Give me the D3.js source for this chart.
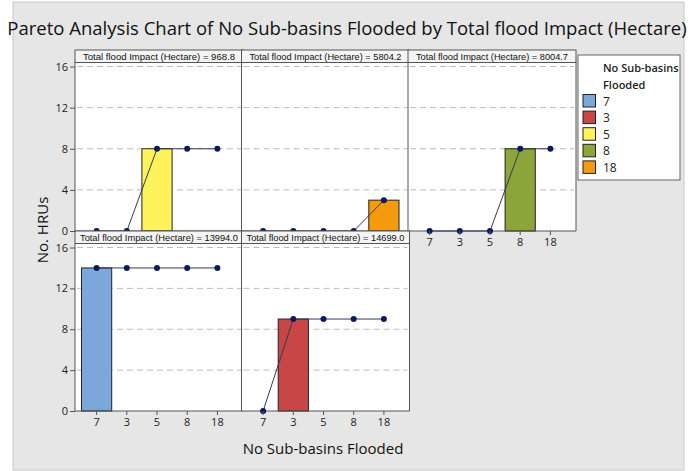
<!DOCTYPE html>
<html><head><meta charset="utf-8">
<script src="https://cdn.jsdelivr.net/npm/d3@7"></script>
<style>
html,body{margin:0;padding:0;background:#fff;}
svg{display:block;font-family:"Open Sans","Liberation Sans",sans-serif;}
</style></head>
<body>
<svg id="c" width="695" height="471"></svg>
<script>
const categories = ["7","3","5","8","18"];
const panelImpacts = ["968.8","5804.2","8004.7","13994.0","14699.0"];
const countsP1 = [0,0,8,0,0];
const countsP2 = [0,0,0,0,3];
const countsP3 = [0,0,0,8,0];
const countsP4 = [14,0,0,0,0];
const countsP5 = [0,9,0,0,0];
const cumP1 = [0,0,8,8,8];
const cumP2 = [0,0,0,0,3];
const cumP3 = [0,0,0,8,8];
const cumP4 = [14,14,14,14,14];
const cumP5 = [0,9,9,9,9];
const yTicks = [0,4,8,12,16];
const catColors = ["#7ba7da","#c94646","#fff35c","#8ba53a","#f59a0c"];

const counts = [countsP1,countsP2,countsP3,countsP4,countsP5];
const cums = [cumP1,cumP2,cumP3,cumP4,cumP5];

const svg = d3.select("#c");
// background
svg.append("rect").attr("x",13).attr("y",2).attr("width",671).attr("height",468)
  .attr("fill","#e6e6e6").attr("stroke","#c8c8c8");

const tg = svg.append("g");
const title = tg.append("text").attr("x",0).attr("y",0).attr("text-anchor","middle")
  .attr("font-size",19).attr("fill","#111")
  .text("Pareto Analysis Chart of No Sub-basins Flooded by Total flood Impact (Hectare)");
const natW = title.node().getComputedTextLength();
const sx = Math.min(1, 680 / natW);
tg.attr("transform",`translate(347,35) scale(${sx},1)`);

const colX = [75, 241.5, 408];
const panelW = 168;
const rows = [
  {hTop:50, hBot:62.5, y16:66.5, y0:231},
  {hTop:231, hBot:243.5, y16:247.5, y0:411}
];
const layout = [
  {c:0,r:0,yAxis:true,xAxis:false},
  {c:1,r:0,yAxis:false,xAxis:false},
  {c:2,r:0,yAxis:false,xAxis:true},
  {c:0,r:1,yAxis:true,xAxis:true},
  {c:1,r:1,yAxis:false,xAxis:true}
];
const color = d3.scaleOrdinal().domain(categories).range(catColors);

layout.forEach((L,i)=>{
  const x0 = colX[L.c], R = rows[L.r];
  const g = svg.append("g");
  const x = d3.scaleBand().domain(categories).range([x0+6.5, x0+6.5+151]).paddingInner(0).paddingOuter(0);
  const y = d3.scaleLinear().domain([0,16]).range([R.y0, R.y16]);
  // panel bg
  g.append("rect").attr("x",x0).attr("y",R.hBot).attr("width",panelW).attr("height",R.y0-R.hBot)
    .attr("fill","#fff").attr("stroke","none");
  // header
  g.append("rect").attr("x",x0).attr("y",R.hTop).attr("width",panelW).attr("height",R.hBot-R.hTop)
    .attr("fill","#f4f4f4").attr("stroke","#555").attr("stroke-width",1);
  const hlen = panelImpacts[i].length > 6 ? 158 : 152;
  g.append("text").attr("x",x0+panelW/2).attr("y",R.hBot-2.5).attr("text-anchor","middle")
    .attr("font-family","'Liberation Sans',sans-serif")
    .attr("font-size",9.5).attr("fill","#111")
    .attr("textLength",hlen).attr("lengthAdjust","spacingAndGlyphs")
    .text("Total flood Impact (Hectare) = " + panelImpacts[i]);
  // grid
  g.selectAll(".grid").data(yTicks.filter(t=>t>0)).enter().append("line")
    .attr("x1",x0+2).attr("x2",x0+panelW-2).attr("y1",d=>y(d)).attr("y2",d=>y(d))
    .attr("stroke","#bdbdbd").attr("stroke-dasharray","6,4").attr("stroke-width",1);
  // bars
  g.selectAll(".bar").data(categories.map((c,k)=>({c, v:counts[i][k]})).filter(d=>d.v>0))
    .enter().append("rect")
    .attr("x",d=>x(d.c)).attr("width",x.bandwidth())
    .attr("y",d=>y(d.v)).attr("height",d=>y(0)-y(d.v))
    .attr("fill",d=>color(d.c)).attr("stroke","#222").attr("stroke-width",1);
  // frame
  g.append("line").attr("x1",x0).attr("x2",x0).attr("y1",R.hBot).attr("y2",R.y0).attr("stroke","#555");
  g.append("line").attr("x1",x0+panelW).attr("x2",x0+panelW).attr("y1",R.hBot).attr("y2",R.y0).attr("stroke","#555");
  g.append("line").attr("x1",x0).attr("x2",x0+panelW).attr("y1",R.y0).attr("y2",R.y0).attr("stroke","#555");
  // cumulative line
  const pts = categories.map((c,k)=>({c, v:cums[i][k]}));
  g.append("path").datum(pts)
    .attr("d", d3.line().x(d=>x(d.c)+x.bandwidth()/2).y(d=>y(d.v)))
    .attr("fill","none").attr("stroke","#333a55").attr("stroke-width",1);
  g.selectAll(".pt").data(pts).enter().append("circle")
    .attr("cx",d=>x(d.c)+x.bandwidth()/2).attr("cy",d=>y(d.v)).attr("r",3)
    .attr("fill","#0d1a5c");
  // axes
  if (L.yAxis){
    const ya = g.append("g").attr("transform",`translate(${x0},0)`)
      .call(d3.axisLeft(y).tickValues(yTicks).tickSize(5).tickPadding(2));
    ya.select(".domain").remove();
    ya.selectAll("line").attr("stroke","#555");
    ya.selectAll("text").attr("font-size",11).attr("fill","#222").attr("font-family","'Open Sans',sans-serif");
  }
  if (L.xAxis){
    const xa = g.append("g").attr("transform",`translate(0,${R.y0})`)
      .call(d3.axisBottom(x).tickSize(4).tickPadding(3));
    xa.select(".domain").remove();
    xa.selectAll("line").attr("stroke","#555");
    xa.selectAll("text").attr("font-size",11).attr("fill","#222").attr("font-family","'Open Sans',sans-serif");
  }
});

// axis titles
svg.append("text").attr("transform","translate(48,230) rotate(-90)").attr("text-anchor","middle")
  .attr("font-size",15).attr("fill","#111").text("No. HRUs");
svg.append("text").attr("x",323).attr("y",454).attr("text-anchor","middle")
  .attr("font-size",15).attr("fill","#111").text("No Sub-basins Flooded");

// legend
const lg = svg.append("g");
lg.append("rect").attr("x",578).attr("y",55).attr("width",102).attr("height",125)
  .attr("fill","#fff").attr("stroke","#666");
lg.append("text").attr("x",603).attr("y",72).attr("font-size",11).attr("font-weight",600).attr("fill","#222").text("No Sub-basins");
lg.append("text").attr("x",603).attr("y",89).attr("font-size",11).attr("font-weight",600).attr("fill","#222").text("Flooded");
const li = lg.selectAll(".li").data(categories).enter().append("g")
  .attr("transform",(d,k)=>`translate(583,${94.5+k*16.6})`);
li.append("rect").attr("width",12.5).attr("height",12.5).attr("fill",d=>color(d)).attr("stroke","#222");
li.append("text").attr("x",20).attr("y",11).attr("font-size",12).attr("fill","#222").text(d=>d);
</script>
</body></html>
